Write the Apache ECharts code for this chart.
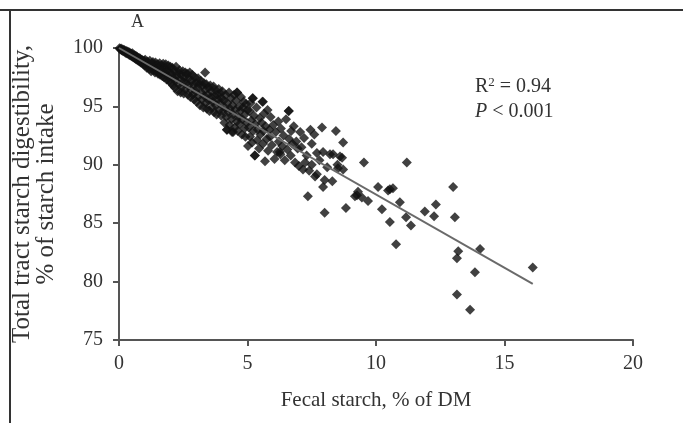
<!DOCTYPE html>
<html>
<head>
<meta charset="utf-8">
<script src="https://cdn.jsdelivr.net/npm/echarts@6/dist/echarts.min.js"></script>
<style>
html,body{margin:0;padding:0;background:#fff;}
#chart{width:683px;height:423px;}
</style>
</head>
<body>
<div id="chart"></div>
<script>
// Fecal starch (% of DM) and total tract starch digestibility (% of starch intake)
var fecalStarch = [
0.02,0.05,0.08,0.1,0.12,0.15,0.18,0.2,0.22,0.25,0.28,0.3,0.32,0.35,0.38,0.4,0.42,0.45,0.48,0.5,0.52,0.55,0.58,0.6,0.62,0.65,0.68,0.7,0.72,0.75,0.78,0.8,0.82,0.85,0.88,0.9,0.92,0.95,0.98,1.0,
1.02,1.05,1.08,1.1,1.12,1.15,1.18,1.2,1.22,1.25,1.28,1.3,1.32,1.35,1.38,1.4,1.42,1.45,1.48,1.5,1.52,1.55,1.58,1.6,1.62,1.65,1.68,1.7,1.72,1.75,1.78,1.8,1.82,1.85,1.88,1.9,1.92,1.95,1.98,2.0,
2.02,2.05,2.08,2.1,2.12,2.15,2.18,2.2,2.22,2.25,2.28,2.3,2.32,2.35,2.38,2.4,2.42,2.45,2.48,2.5,2.52,2.55,2.58,2.6,2.62,2.65,2.68,2.7,2.72,2.75,2.78,2.8,2.82,2.85,2.88,2.9,2.92,2.95,2.98,3.0,
3.02,3.05,3.08,3.1,3.12,3.15,3.18,3.2,3.22,3.25,3.28,3.3,3.32,3.35,3.35,3.38,3.4,3.42,3.45,3.48,3.5,3.52,3.55,3.58,3.6,3.62,3.65,3.68,3.7,3.72,3.75,3.78,3.8,3.82,3.85,3.88,3.9,3.92,3.95,3.98,4.0,
4.02,4.05,4.08,4.1,4.12,4.15,4.18,4.2,4.22,4.25,4.28,4.3,4.32,4.35,4.38,4.4,4.42,4.45,4.48,4.5,4.52,4.55,4.58,4.6,4.62,4.65,4.68,4.7,4.72,4.75,4.78,4.8,4.82,4.85,4.88,4.9,4.92,4.95,4.98,5.0,
5.02,5.05,5.08,5.1,5.12,5.15,5.18,5.2,5.22,5.25,5.28,5.3,5.35,5.38,5.4,5.45,5.48,5.5,5.55,5.58,5.6,5.62,5.65,5.68,5.7,5.75,5.78,5.8,5.85,5.88,5.9,5.95,6.0,
4.2,4.44,4.59,5.21,5.29,5.6,6.26,6.61,
6.05,6.1,6.15,6.2,6.22,6.28,6.3,6.35,6.4,6.45,6.5,6.55,6.6,6.62,6.68,6.7,6.75,6.8,6.85,6.9,6.95,7.0,
7.05,7.1,7.16,7.2,7.24,7.3,7.35,7.4,7.45,7.5,7.5,7.6,7.63,7.7,7.7,7.8,7.9,7.94,7.94,8.0,8.0,8.1,8.21,8.3,8.33,8.44,8.5,8.52,8.6,8.68,8.72,8.72,8.83,
9.18,9.26,9.3,9.45,9.53,9.69,10.08,10.23,10.47,10.54,10.66,10.54,10.78,10.93,11.17,11.2,11.36,11.9,12.26,12.33,13.0,13.07,13.2,13.15,14.05,13.85,16.1,13.15,13.66
];
var digestibility = [
99.98,99.9,99.95,99.8,99.9,99.75,99.85,99.7,99.8,99.6,99.75,99.55,99.7,99.5,99.65,99.4,99.6,99.35,99.5,99.3,99.55,99.2,99.4,99.15,99.35,99.05,99.3,99.0,99.2,98.9,99.15,98.85,99.1,98.75,99.0,98.7,98.95,98.6,98.9,98.5,
99.0,98.6,98.3,98.85,98.45,98.7,98.2,98.9,98.5,98.0,98.7,98.35,98.8,98.1,98.55,97.9,98.75,98.3,98.0,98.6,97.8,98.4,98.7,97.7,98.2,98.5,97.6,98.0,98.65,97.5,98.3,97.9,98.6,97.3,98.1,97.6,98.5,97.2,97.9,98.4,
97.0,97.7,98.3,96.8,97.4,98.0,96.6,97.2,98.4,97.6,96.3,97.9,96.9,98.1,97.3,96.2,97.7,96.7,98.0,97.1,96.1,97.5,97.9,96.5,97.0,97.8,96.0,96.8,97.4,97.9,95.8,96.4,97.2,97.7,96.0,96.9,95.6,97.5,96.3,97.0,
95.4,96.6,97.4,95.9,96.9,95.1,97.2,96.2,95.6,96.8,94.9,97.0,95.9,96.4,97.9,95.3,96.9,94.8,96.0,96.6,95.5,94.6,96.8,95.8,96.3,94.9,95.4,96.7,94.5,95.9,96.4,95.1,94.3,96.0,95.6,96.5,94.7,95.3,96.1,94.2,95.7,
96.3,94.6,95.5,93.6,94.9,96.0,94.1,93.0,95.3,94.5,96.2,93.4,94.8,95.7,93.9,92.8,95.1,94.3,96.0,93.2,94.7,95.5,93.7,96.2,92.9,94.1,95.0,93.5,94.6,95.8,92.6,93.9,94.9,95.4,93.1,94.3,92.4,95.2,93.6,94.7,
91.6,93.2,94.6,92.4,95.3,93.8,91.9,95.7,92.9,94.2,90.8,93.5,94.9,92.1,93.0,91.4,94.0,92.6,93.6,95.4,91.8,92.9,94.4,90.3,93.3,92.2,94.7,91.2,93.0,92.4,94.1,91.7,93.4,
93.0,92.8,96.2,95.7,90.8,95.4,91.1,94.6,
90.5,92.8,91.1,93.7,92.0,90.9,93.1,91.6,92.5,90.4,93.9,91.3,94.6,92.2,90.8,92.9,91.8,93.3,90.2,92.0,91.4,89.9,
92.8,91.5,89.6,92.3,90.2,90.8,87.3,89.5,93.0,91.8,90.0,92.6,89.0,89.2,91.0,90.4,93.2,91.1,88.1,88.7,85.9,89.8,90.9,88.6,90.9,92.9,90.0,89.7,90.7,90.6,91.9,89.6,86.3,
87.3,87.4,87.7,87.2,90.2,86.9,88.1,86.2,87.8,87.9,88.0,85.1,83.2,86.8,85.5,90.2,84.8,86.0,85.6,86.6,88.1,85.5,82.6,82.0,82.8,80.8,81.2,78.9,77.6
];
// Regression line endpoints
var fitX = [0, 16.1];
var fitY = [100, 79.8];
// Axis ticks
var xTicks = [0, 5, 10, 15, 20];
var yTicks = [75, 80, 85, 90, 95, 100];

var points = fecalStarch.map(function (x, i) { return [x, digestibility[i]]; });
var fitLine = fitX.map(function (x, i) { return [x, fitY[i]]; });

var serif = '"Liberation Serif", "Times New Roman", serif';
var txt = '#333';
var chart = echarts.init(document.getElementById('chart'), null, {renderer: 'canvas'});
chart.setOption({
  animation: false,
  backgroundColor: '#fff',
  grid: {left: 119, top: 48, right: 50, bottom: 83, containLabel: false, outerBoundsMode: 'none'},
  xAxis: {
    type: 'value', min: xTicks[0], max: xTicks[xTicks.length - 1], interval: 5,
    name: 'Fecal starch, % of DM', nameLocation: 'middle', nameGap: 50, nameMoveOverlap: false,
    nameTextStyle: {fontFamily: serif, fontSize: 21, color: txt},
    axisLine: {show: true, lineStyle: {color: '#555', width: 2}},
    axisTick: {show: true, inside: false, length: 6, lineStyle: {color: '#555', width: 2}},
    axisLabel: {fontFamily: serif, fontSize: 20, color: txt, margin: 14},
    splitLine: {show: false}
  },
  yAxis: {
    type: 'value', min: yTicks[0], max: yTicks[yTicks.length - 1], interval: 5,
    name: 'Total tract starch digestibility,\n% of starch intake', nameLocation: 'middle', nameGap: 61, nameMoveOverlap: false,
    nameTextStyle: {fontFamily: serif, fontSize: 25, color: txt, lineHeight: 24},
    axisLine: {show: true, lineStyle: {color: '#555', width: 2}},
    axisTick: {show: true, inside: false, length: 6, lineStyle: {color: '#555', width: 2}},
    axisLabel: {fontFamily: serif, fontSize: 20, color: txt, margin: 16},
    splitLine: {show: false}
  },
  series: [
    {
      type: 'scatter', data: points, symbol: 'diamond', symbolSize: 10,
      itemStyle: {color: '#111'}, z: 2
    },
    {
      type: 'line', data: fitLine, showSymbol: false, symbol: 'none',
      lineStyle: {color: '#6a6a6a', width: 2}, z: 3
    }
  ],
  graphic: [
    {type: 'line', shape: {x1: 0, y1: 10, x2: 683, y2: 10}, style: {stroke: '#333', lineWidth: 2}},
    {type: 'line', shape: {x1: 10, y1: 10, x2: 10, y2: 423}, style: {stroke: '#333', lineWidth: 2}},
    {type: 'text', left: 131, top: 13, style: {text: 'A', font: '18px ' + serif, fill: txt}},
    {type: 'text', left: 475, top: 76, style: {
      text: 'R{s|2} = 0.94', font: '20px ' + serif, fill: txt,
      rich: {s: {fontSize: 13, verticalAlign: 'top', padding: [0, 0, 8, 0], fontFamily: serif, fill: txt}}
    }},
    {type: 'text', left: 475, top: 102, style: {
      text: '{i|P} < 0.001', font: '20px ' + serif, fill: txt,
      rich: {i: {fontStyle: 'italic', fontSize: 20, fontFamily: serif, fill: txt}}
    }}
  ]
});
</script>
</body>
</html>
